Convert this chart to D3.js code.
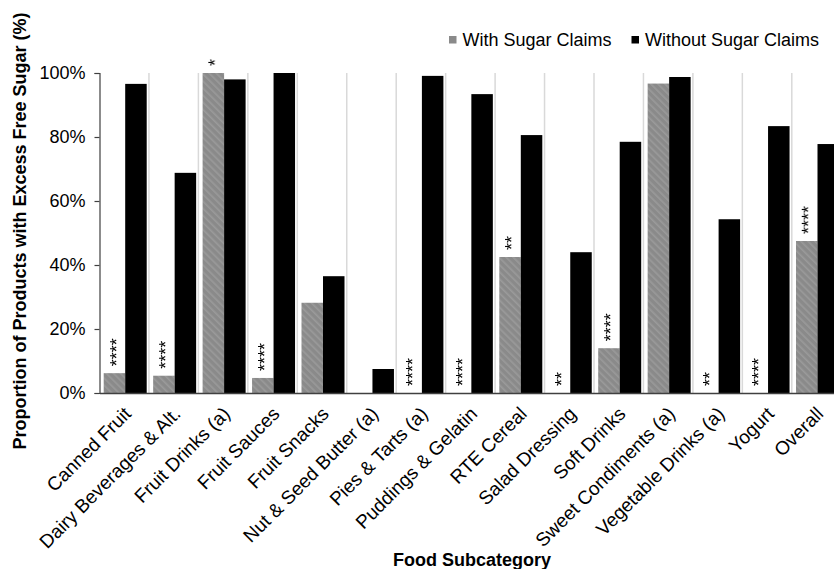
<!DOCTYPE html>
<html>
<head>
<meta charset="utf-8">
<script src="https://cdn.jsdelivr.net/npm/d3@7"></script>
<style>
  html, body { margin: 0; padding: 0; background: #fff; }
  svg { display: block; font-family: Arial, "Liberation Sans", sans-serif; }
  .sig { -webkit-font-smoothing: antialiased; }
</style>
</head>
<body>
<svg id="chart" width="834" height="569"></svg>
<script>
// Food subcategories along the x axis
const categories = [
  "Canned Fruit", "Dairy Beverages & Alt.", "Fruit Drinks (a)", "Fruit Sauces",
  "Fruit Snacks", "Nut & Seed Butter (a)", "Pies & Tarts (a)", "Puddings & Gelatin",
  "RTE Cereal", "Salad Dressing", "Soft Drinks", "Sweet Condiments (a)",
  "Vegetable Drinks (a)", "Yogurt", "Overall"
];
// % of products with excess free sugar
const withClaims    = [6.2, 5.4, 100, 4.7, 28.2, 0, 0, 0, 42.5, 0, 14.0, 96.7, 0, 0, 47.5];
const withoutClaims = [96.6, 68.8, 98.0, 100, 36.5, 7.5, 99.1, 93.4, 80.6, 44.0, 78.5, 98.75, 54.3, 83.4, 77.8];
// significance markers shown above the "with claims" bar
const significance = ["****", "****", "*", "****", "", "", "****", "****", "**", "**", "****", "", "**", "****", "****"];
const seriesNames = ["With Sugar Claims", "Without Sugar Claims"];
const yTicks = [0, 20, 40, 60, 80, 100];

const svg = d3.select("#chart");
const plot = { left: 99.5, top: 73, bottom: 393, band: 49.45 };

const x = d3.scaleBand()
  .domain(categories)
  .range([plot.left, plot.left + plot.band * categories.length])
  .padding(0);
const x1 = d3.scaleBand().domain(seriesNames).range([4.2, 47.2]).padding(0);
const y = d3.scaleLinear().domain([0, 100]).range([plot.bottom, plot.top]);

// hatched grey fill for the "with claims" series
const defs = svg.append("defs");
const pat = defs.append("pattern")
  .attr("id", "hatch").attr("patternUnits", "userSpaceOnUse")
  .attr("width", 5).attr("height", 5)
  .attr("patternTransform", "rotate(-45)");
pat.append("rect").attr("width", 5).attr("height", 5).attr("fill", "#8a8a8a");
pat.append("rect").attr("width", 1.6).attr("height", 5).attr("fill", "#9a9a9a");

const color = { "With Sugar Claims": "url(#hatch)", "Without Sugar Claims": "#000" };

// vertical separators between categories
svg.append("g").selectAll("line")
  .data(categories.slice(1).concat(["__end"]))
  .join("line")
  .attr("x1", (d, i) => x(categories[0]) + plot.band * (i + 1))
  .attr("x2", (d, i) => x(categories[0]) + plot.band * (i + 1))
  .attr("y1", plot.top).attr("y2", plot.bottom)
  .attr("stroke", "#d9d9d9").attr("stroke-width", 1.5);

// bars
const rows = categories.map((c, i) => ({ c, i, vals: [withClaims[i], withoutClaims[i]] }));
const groups = svg.append("g").selectAll("g")
  .data(rows).join("g")
  .attr("transform", d => `translate(${x(d.c)},0)`);

groups.selectAll("rect")
  .data(d => seriesNames.map((s, k) => ({ s, v: d.vals[k] })))
  .join("rect")
  .attr("x", d => x1(d.s))
  .attr("width", x1.bandwidth())
  .attr("y", d => y(d.v))
  .attr("height", d => y(0) - y(d.v))
  .attr("fill", d => color[d.s]);

// significance asterisks, written upward above the grey bar
svg.append("g").attr("class", "sig").attr("opacity", 0.999)
  .selectAll("text")
  .data(rows).join("text")
  .text(d => significance[d.i])
  .attr("transform", d => `translate(${x(d.c) + x1(seriesNames[0]) + x1.bandwidth() / 2},${y(withClaims[d.i]) - 7}) rotate(-90)`)
  .attr("dy", "0.45em")
  .attr("font-size", 18)
  .attr("fill", "#000");

// y axis
const yAxis = svg.append("g")
  .attr("transform", `translate(${plot.left},0)`)
  .call(d3.axisLeft(y).tickValues(yTicks).tickFormat(d => d + "%").tickSize(5).tickPadding(9));
yAxis.select(".domain").attr("stroke", "#404040").attr("stroke-width", 1.2);
yAxis.selectAll(".tick line").attr("stroke", "#404040").attr("stroke-width", 1.2);
yAxis.selectAll(".tick text").attr("font-size", 18).attr("fill", "#000")
  .attr("font-family", "Arial, 'Liberation Sans', sans-serif");

// x axis baseline and rotated category labels
const xAxis = svg.append("g")
  .attr("transform", `translate(0,${plot.bottom})`)
  .call(d3.axisBottom(x).tickSize(0).tickPadding(0));
xAxis.select(".domain").attr("stroke", "#404040").attr("stroke-width", 1.5);
xAxis.selectAll(".tick text")
  .attr("font-size", 19).attr("fill", "#000")
  .attr("font-family", "Arial, 'Liberation Sans', sans-serif")
  .attr("text-anchor", "end")
  .attr("transform", "translate(0,14) rotate(-45)")
  .attr("dy", "0.6em")
  .attr("y", 0);

// axis titles
svg.append("text")
  .attr("transform", "translate(26,231) rotate(-90)")
  .attr("text-anchor", "middle")
  .attr("font-size", 18).attr("font-weight", "bold")
  .text("Proportion of Products with Excess Free Sugar (%)");
svg.append("text")
  .attr("x", 472).attr("y", 566)
  .attr("text-anchor", "middle")
  .attr("font-size", 18).attr("font-weight", "bold")
  .text("Food Subcategory");

// legend
const legendX = [449, 631.5];
const legend = svg.append("g").selectAll("g")
  .data(seriesNames).join("g")
  .attr("transform", (d, i) => `translate(${legendX[i]},0)`);
legend.append("rect")
  .attr("x", 0).attr("y", 36).attr("width", 7.5).attr("height", 7.5)
  .attr("fill", (d, i) => i === 0 ? "#8a8a8a" : "#000");
legend.append("text")
  .attr("x", 13.5).attr("y", 46)
  .attr("font-size", 18)
  .text(d => d);
</script>
</body>
</html>
